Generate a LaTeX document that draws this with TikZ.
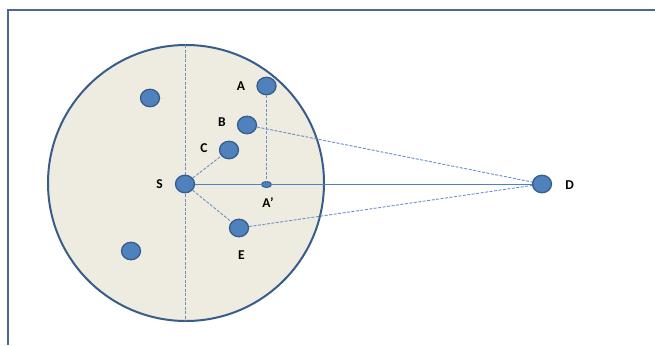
\documentclass[tikz,border=0pt]{standalone}
\usepackage{fontspec}
\setmainfont{Carlito}
\usetikzlibrary{shapes.geometric}
\definecolor{dotfill}{HTML}{4F81BD}
\definecolor{dotline}{HTML}{385D8A}
\definecolor{linec}{HTML}{4F81BD}
\definecolor{dashc}{HTML}{6A92C8}
\definecolor{discfill}{HTML}{EEECE1}
\definecolor{framec}{HTML}{4A6890}
\begin{document}
\begin{tikzpicture}[x=1pt,y=-1pt,
  dot/.style={ellipse,fill=dotfill,draw=dotline,line width=1.3pt,minimum width=19pt,minimum height=17.5pt,inner sep=0pt},
  smalldot/.style={ellipse,fill=dotfill,draw=dotline,line width=1pt,minimum width=10pt,minimum height=6pt,inner sep=0pt},
  lab/.style={font=\fontsize{13.5}{15}\selectfont\bfseries,text=black,inner sep=0pt},
  dline/.style={draw=dashc,line width=0.9pt,dash pattern=on 3pt off 1.5pt},
  sline/.style={draw=linec,line width=1pt}]
\useasboundingbox (0,0) rectangle (655,345);
\draw[framec,line width=2pt] (8,345) -- (8,10) -- (655,10);
\node[circle,fill=discfill,draw=dotline,line width=2pt,minimum size=276pt,inner sep=0pt] (disc) at (186,183) {};
\coordinate (top) at (185.5,45.5);
\coordinate (bot) at (185.5,320.5);
\draw[dline] (top) -- (bot);
\node[dot] (S) at (185,184) {};
\node[dot] (A) at (266.5,86) {};
\node[dot] (B) at (247,125) {};
\node[dot] (C) at (229,150) {};
\node[dot] (E) at (239,228) {};
\node[dot] (D) at (542,184) {};
\node[dot] (U1) at (150,98) {};
\node[dot] (U2) at (131,251) {};
\node[smalldot] (Ap) at (266.5,184.5) {};
\draw[sline] (S) -- (D);
\draw[dline] (S) -- (C);
\draw[dline] (S) -- (E);
\draw[dline] (A) -- (Ap);
\draw[dline] (B) -- (D);
\draw[dline] (E) -- (D);
\node[lab] (lA) at (241,86) {A};
\node[lab] (lB) at (222,122) {B};
\node[lab] (lC) at (204,148) {C};
\node[lab] (lS) at (159.5,184) {S};
\node[lab] (lAp) at (268,203) {A’};
\node[lab] (lE) at (241.5,255.5) {E};
\node[lab] (lD) at (569.5,185) {D};
\end{tikzpicture}
\end{document}
